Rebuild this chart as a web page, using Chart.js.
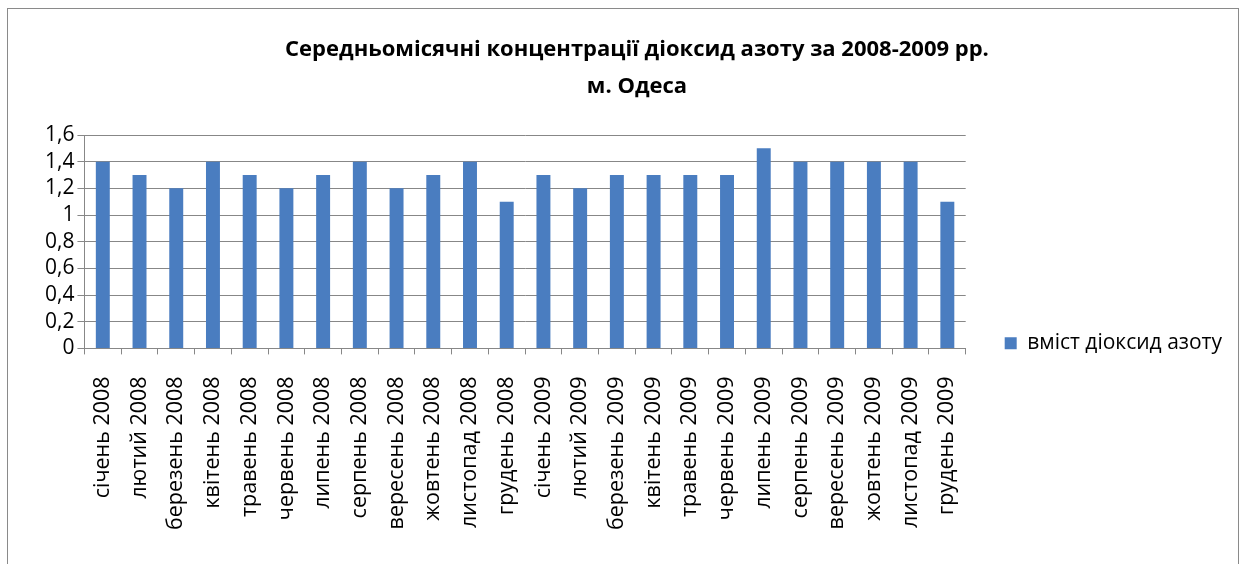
<!DOCTYPE html>
<html>
<head>
<meta charset="utf-8">
<script src="https://cdn.jsdelivr.net/npm/chart.js@4.4.1/dist/chart.umd.min.js"></script>
<style>
  body { margin: 0; background: #fff; }
  #wrap { position: relative; width: 1242px; height: 564px; overflow: hidden; }
  #frame { position: absolute; left: 7px; top: 8px; width: 1230px; height: 620px; border: 1px solid #8a8a8a; }
  canvas { position: absolute; left: 0; top: 0; }
</style>
</head>
<body>
<div id="wrap">
  <div id="frame"></div>
  <canvas id="no2Chart" width="1242" height="564"></canvas>
</div>
<script>
// ====== Data ======
const months = [
  "січень 2008", "лютий 2008", "березень 2008", "квітень 2008", "травень 2008", "червень 2008",
  "липень 2008", "серпень 2008", "вересень 2008", "жовтень 2008", "листопад 2008", "грудень 2008",
  "січень 2009", "лютий 2009", "березень 2009", "квітень 2009", "травень 2009", "червень 2009",
  "липень 2009", "серпень 2009", "вересень 2009", "жовтень 2009", "листопад 2009", "грудень 2009",
];
const no2Values = [
  1.4, 1.3, 1.2, 1.4, 1.3, 1.2, 1.3, 1.4, 1.2, 1.3, 1.4, 1.1,
  1.3, 1.2, 1.3, 1.3, 1.3, 1.3, 1.5, 1.4, 1.4, 1.4, 1.4, 1.1,
];
const seriesName = "вміст діоксид азоту";
const titleLines = ["Середньомісячні концентрації діоксид азоту за 2008-2009 рр.", "м. Одеса"];

const FONT = "'Open Sans', 'Noto Sans', sans-serif";
const gridColor = "#878787";

// ====== Chart ======
const ctx = document.getElementById("no2Chart");
new Chart(ctx, {
  type: "bar",
  data: {
    labels: months,
    datasets: [
      {
        label: seriesName,
        data: no2Values,
        backgroundColor: "#4a7dc0",
        barPercentage: 0.38,
        categoryPercentage: 1,
      },
    ],
  },
  options: {
    responsive: false,
    animation: false,
    devicePixelRatio: 1,
    layout: { padding: { left: 42, right: 10, top: 0, bottom: 12 } },
    plugins: {
      title: {
        display: true,
        text: titleLines,
        color: "#000",
        font: { family: FONT, size: 22, weight: "bold", lineHeight: "37px" },
        padding: { top: 31, bottom: 30 },
      },
      legend: {
        display: true,
        position: "right",
        align: "center",
        // blank legend title only pushes the entry down to sit level with the axis
        title: { display: true, text: " ", font: { size: 12 }, padding: { top: 120, bottom: 0 } },
        labels: {
          color: "#000",
          font: { family: FONT, size: 21 },
          boxWidth: 12,
          boxHeight: 12,
          padding: 39,
        },
      },
      tooltip: { enabled: false },
    },
    scales: {
      x: {
        offset: true,
        grid: { display: true, drawOnChartArea: false, offset: true, color: gridColor, tickLength: 6 },
        border: { color: gridColor },
        ticks: {
          color: "#000",
          font: { family: FONT, size: 21.5 },
          minRotation: 90,
          maxRotation: 90,
          autoSkip: false,
          padding: 22,
        },
      },
      y: {
        min: 0,
        max: 1.6,
        grid: { color: gridColor, tickLength: 7 },
        border: { color: gridColor },
        ticks: {
          stepSize: 0.2,
          autoSkip: false,
          color: "#000",
          font: { family: FONT, size: 21, lineHeight: 1 },
          padding: 3,
          callback: (v) => String(Math.round(v * 10) / 10).replace(".", ","),
        },
      },
    },
  },
});
</script>
</body>
</html>
